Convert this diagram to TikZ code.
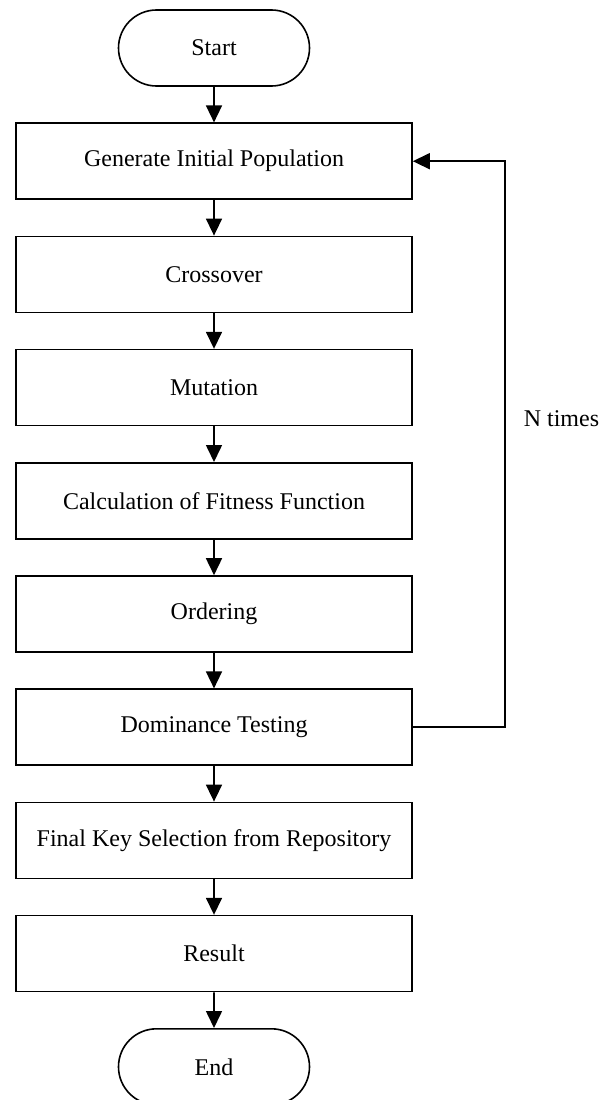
\documentclass[tikz,border=0pt]{standalone}
\usepackage{fontspec}
\setmainfont{Liberation Serif}
\usetikzlibrary{shapes.misc, arrows.meta}
\newcommand{\unitsize}{1pt}

\begin{document}
\begin{tikzpicture}
\useasboundingbox (0,0) rectangle (609*\unitsize,-1100*\unitsize);
\tikzstyle{every node}=[draw,
			line width=1.6pt,
			font=\fontsize{24}{28}\selectfont,
			inner sep=0pt
			]
\tikzstyle{process}=[rectangle, minimum width=396*\unitsize, minimum height=76*\unitsize]
\tikzstyle{terminal}=[rounded rectangle, minimum width=191*\unitsize, minimum height=76*\unitsize]
\tikzstyle{flow}=[line width=1.6pt, -{Triangle[length=17pt, width=16pt]}]


\node[terminal] (start) at (214*\unitsize,-48*\unitsize) {Start};


\node[process] (gen) at (214*\unitsize,-161.2*\unitsize) {Generate Initial Population};


\node[process] (cross) at (214*\unitsize,-274.4*\unitsize) {Crossover};


\node[process] (mut) at (214*\unitsize,-387.6*\unitsize) {Mutation};


\node[process] (fit) at (214*\unitsize,-500.8*\unitsize) {Calculation of Fitness Function};


\node[process] (order) at (214*\unitsize,-614*\unitsize) {Ordering};


\node[process] (dom) at (214*\unitsize,-727.2*\unitsize) {Dominance Testing};


\node[process] (final) at (214*\unitsize,-840.4*\unitsize) {Final Key Selection from Repository};


\node[process] (res) at (214*\unitsize,-953.6*\unitsize) {Result};


\node[terminal] (end) at (214*\unitsize,-1066.8*\unitsize) {End};


\draw[flow] (start) -- (gen);
\draw[flow] (gen) -- (cross);
\draw[flow] (cross) -- (mut);
\draw[flow] (mut) -- (fit);
\draw[flow] (fit) -- (order);
\draw[flow] (order) -- (dom);
\draw[flow] (dom) -- (final);
\draw[flow] (final) -- (res);
\draw[flow] (res) -- (end);


\coordinate (loopx) at (505*\unitsize,-444*\unitsize);
\draw[flow] (dom.east) -- (dom.east -| loopx) |- (gen.east);


\node[draw=none, anchor=west] (ntimes) at (523*\unitsize,-419*\unitsize) {N times};

\end{tikzpicture}
\end{document}
